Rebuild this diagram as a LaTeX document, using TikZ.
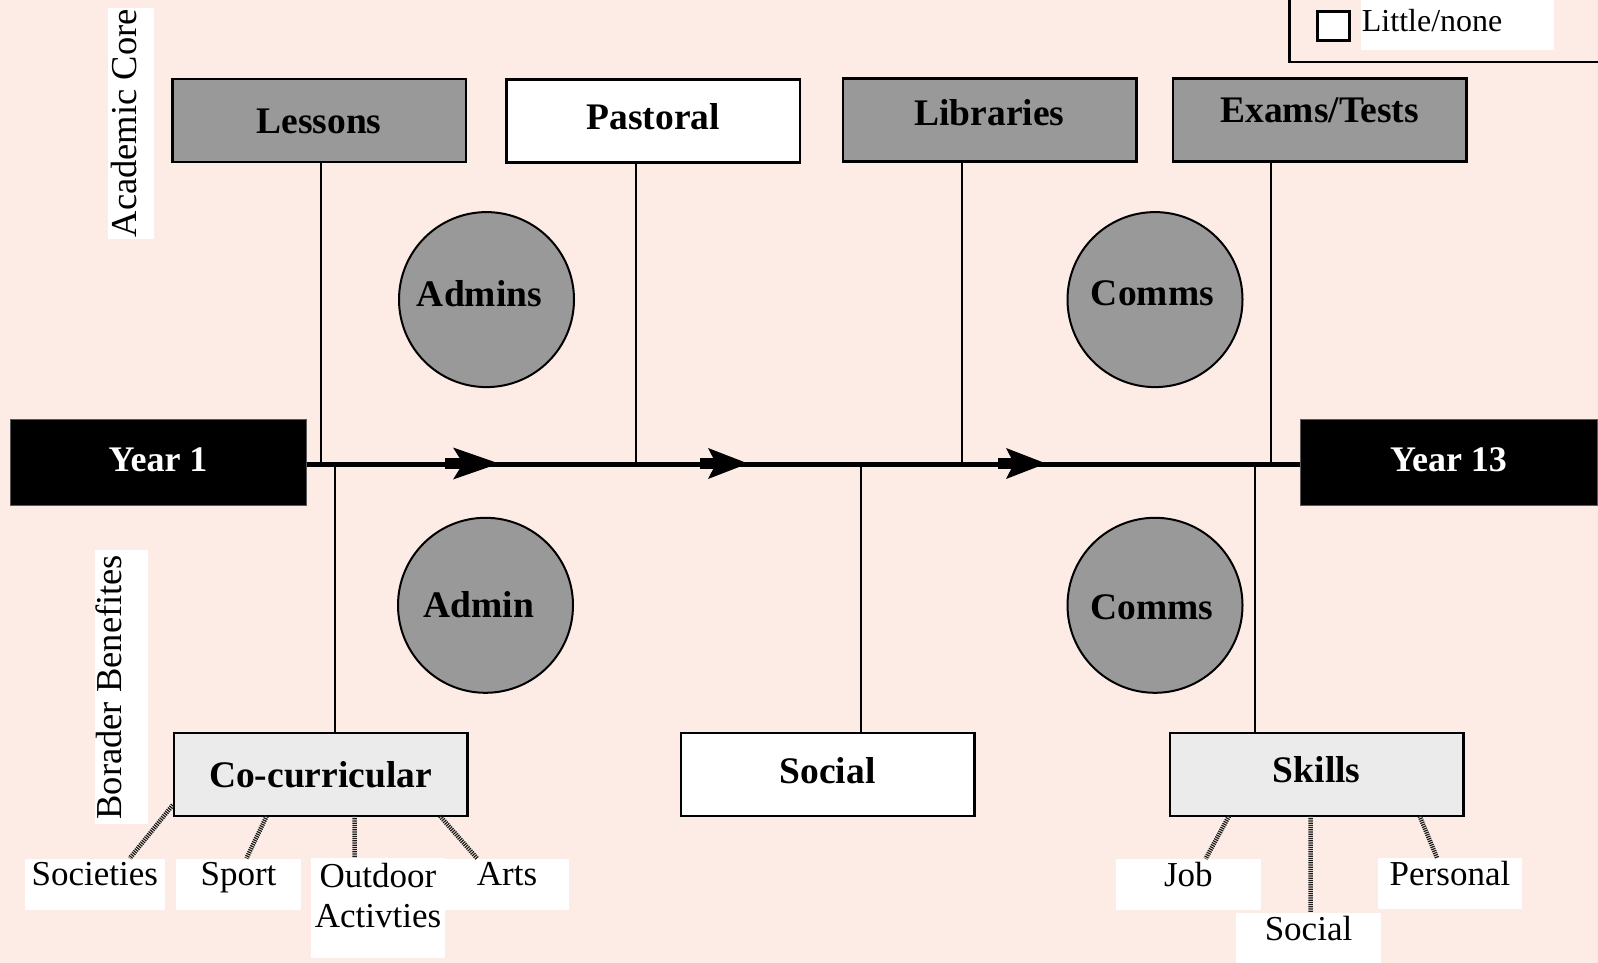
\documentclass[tikz,border=0pt]{standalone}
\usepackage{fontspec}
\setmainfont{Liberation Serif}
\usetikzlibrary{arrows.meta,calc}
\definecolor{bgpink}{RGB}{252,236,229}
\definecolor{cgray}{RGB}{153,153,153}
\definecolor{clight}{RGB}{235,235,235}
\begin{document}
\begin{tikzpicture}[x=1pt,y=-1pt,
  topbox/.style={draw=black, line width=2.5pt, minimum width=293.5pt, minimum height=83pt, inner sep=0pt, outer sep=0pt},
  btxt/.style={font=\bfseries\fontsize{37.5}{40}\selectfont, text height=25.3pt, text depth=0pt, inner sep=0pt},
  circ/.style={circle, draw=black, line width=2pt, fill=cgray, minimum size=175pt, inner sep=0pt},
  yearbox/.style={fill=black, draw=black!65, line width=1pt, minimum width=296pt, minimum height=86pt, inner sep=0pt},
  ytxt/.style={btxt, text=white, font=\bfseries\fontsize{36}{40}\selectfont},
  bone/.style={line width=2pt},
  spine/.style={line width=5.5pt},
  arrowbig/.style={line width=11pt, -{Stealth[length=46pt,width=32pt,inset=10pt,line width=0pt]}},
  arrowsm/.style={line width=11pt, -{Stealth[length=40pt,width=31pt,inset=8pt,line width=0pt]}},
  subbg/.style={fill=white, inner sep=0pt, minimum height=51pt},
  stxt/.style={font=\fontsize{35}{40.7}\selectfont, text height=23.2pt, text depth=0pt, inner sep=0pt},
  stxttwo/.style={font=\fontsize{35}{40.7}\selectfont, align=center, inner sep=0pt},
  hatch/.style={line width=4.5pt, draw=black!90, dash pattern=on 1.2pt off 1pt},
  sidebg/.style={fill=white, rotate=90, inner sep=0pt, font=\fontsize{36.5}{40}\selectfont}
]
\useasboundingbox (0,0) rectangle (1598,963);
\fill[bgpink] (0,0) rectangle (1598,963);

% legend (partly cut off)
\node[draw=black, line width=2.5pt, anchor=north west, minimum width=330pt, minimum height=80pt, inner sep=0pt] (legend) at (1288.3,-19) {};
\node[draw=black, line width=3pt, fill=white, minimum width=32pt, minimum height=29.3pt, inner sep=0pt] (lgsq) at (1333.5,26.2) {};
\node[fill=white, anchor=north west, minimum width=193pt, minimum height=60pt, inner sep=0pt] (lgbg) at (1360.7,-10) {};
\node[anchor=base west, inner sep=0pt, font=\fontsize{32}{36}\selectfont] (lgtxt) at (1361.7,31.7) {Little/none};

% side labels
\node[sidebg, minimum width=230.5pt, text height=28pt, text depth=18pt] (acad) at (131,123.3) {Academic Core};
\node[sidebg, minimum width=274pt, text height=27pt, text depth=25.7pt] (borader) at (121.3,687.2) {Borader Benefites};

% year boxes
\node[yearbox, label={[ytxt,yshift=3.4pt]center:Year 1}] (year1) at (158,462) {};
\node[yearbox, minimum width=297pt, label={[ytxt,yshift=3.4pt]center:Year 13}] (year13) at (1448.5,462) {};

% top boxes
\node[topbox, fill=cgray, label={[btxt]center:Lessons}] (lessons) at (319,120.7) {};
\node[topbox, fill=white, label={[btxt,yshift=4pt]center:Pastoral}] (pastoral) at (653.2,121.2) {};
\node[topbox, fill=cgray, label={[btxt,yshift=7pt]center:Libraries}] (libraries) at (989.5,120.2) {};
\node[topbox, fill=cgray, label={[btxt,yshift=10pt]center:Exams/Tests}] (exams) at (1319.7,120.2) {};

% bottom boxes
\node[topbox, fill=clight, label={[btxt]center:Co-curricular}] (cocurr) at (320.5,774.5) {};
\node[topbox, fill=white, label={[btxt,yshift=4pt]center:Social}] (socialbox) at (827.5,774.5) {};
\node[topbox, fill=clight, label={[btxt,yshift=5pt]center:Skills}] (skills) at (1316.7,774.5) {};

% circles
\node[circ, label={[btxt,xshift=-7pt,yshift=6pt]center:Admins}] (admins) at (486.5,299.6) {};
\node[circ, label={[btxt,xshift=-2.6pt,yshift=7pt]center:Comms}] (commsT) at (1155,299.6) {};
\node[circ, label={[btxt,xshift=-6.5pt]center:Admin}] (admin) at (485.5,605.3) {};
\node[circ, label={[btxt,xshift=-3pt,yshift=-2pt]center:Comms}] (commsB) at (1155,605.3) {};

% spine
\coordinate (spL) at (0,464.5);
\draw[spine] (year1.east |- spL) -- (year13.west |- spL);

% bones
\coordinate (b1) at (321,464.5);
\coordinate (b2) at (636,464.5);
\coordinate (b3) at (961.5,464.5);
\coordinate (b4) at (1270.5,464.5);
\coordinate (c1) at (334.5,464.5);
\coordinate (c2) at (860.8,464.5);
\coordinate (c3) at (1255,464.5);
\draw[bone] (b1 |- lessons.south) -- (b1);
\draw[bone] (b2 |- pastoral.south) -- (b2);
\draw[bone] (b3 |- libraries.south) -- (b3);
\draw[bone] (b4 |- exams.south) -- (b4);
\draw[bone] (c1) -- (c1 |- cocurr.north);
\draw[bone] (c2) -- (c2 |- socialbox.north);
\draw[bone] (c3) -- (c3 |- skills.north);

% arrows on spine
\coordinate (a1s) at (445,463.5); \coordinate (a1e) at (499,463.5);
\coordinate (a2s) at (700,463.5); \coordinate (a2e) at (748,463.5);
\coordinate (a3s) at (998,463.5); \coordinate (a3e) at (1046,463.5);
\draw[arrowbig] (a1s) -- (a1e);
\draw[arrowsm] (a2s) -- (a2e);
\draw[arrowsm] (a3s) -- (a3e);

% sub labels
\node[subbg, minimum width=140.5pt, label={[stxt,yshift=10pt]center:Societies}] (societies) at (94.8,884) {};
\node[subbg, minimum width=124.3pt, label={[stxt,yshift=10pt]center:Sport}] (sport) at (238.5,884) {};
\node[subbg, minimum width=134.5pt, minimum height=100pt, label={[stxttwo,yshift=12.5pt]center:Outdoor\\Activties}] (outdoor) at (378,908) {};
\node[subbg, minimum width=123.3pt, label={[stxt,yshift=10pt]center:Arts}] (arts) at (507,884) {};
\node[subbg, minimum width=144.6pt, label={[stxt,yshift=10pt]center:Job}] (job) at (1188.3,884.5) {};
\node[subbg, minimum width=145pt, minimum height=50pt, label={[stxt,yshift=9pt]center:Social}] (socialsk) at (1308.5,938) {};
\node[subbg, minimum width=144.7pt, label={[stxt,yshift=10pt]center:Personal}] (personal) at (1450,883.5) {};

% hatched connectors
\draw[hatch] ($(cocurr.south west)+(-1,-11)$) -- ($(societies.north)+(35,0)$);
\draw[hatch] ($(cocurr.south)+(-53.8,0)$) -- ($(sport.north)+(8,0)$);
\draw[hatch] ($(cocurr.south)+(34,0)$) -- ($(outdoor.north)+(-23.4,0)$);
\draw[hatch] ($(cocurr.south)+(119.5,0)$) -- ($(arts.north)+(-30,0)$);
\draw[hatch] ($(skills.south)+(-87.7,0)$) -- ($(job.north)+(17.3,0)$);
\draw[hatch] ($(skills.south)+(-6.1,0)$) -- ($(socialsk.north)+(2.1,0)$);
\draw[hatch] ($(skills.south)+(102.9,0)$) -- ($(personal.north)+(-13,0)$);
\end{tikzpicture}
\end{document}
